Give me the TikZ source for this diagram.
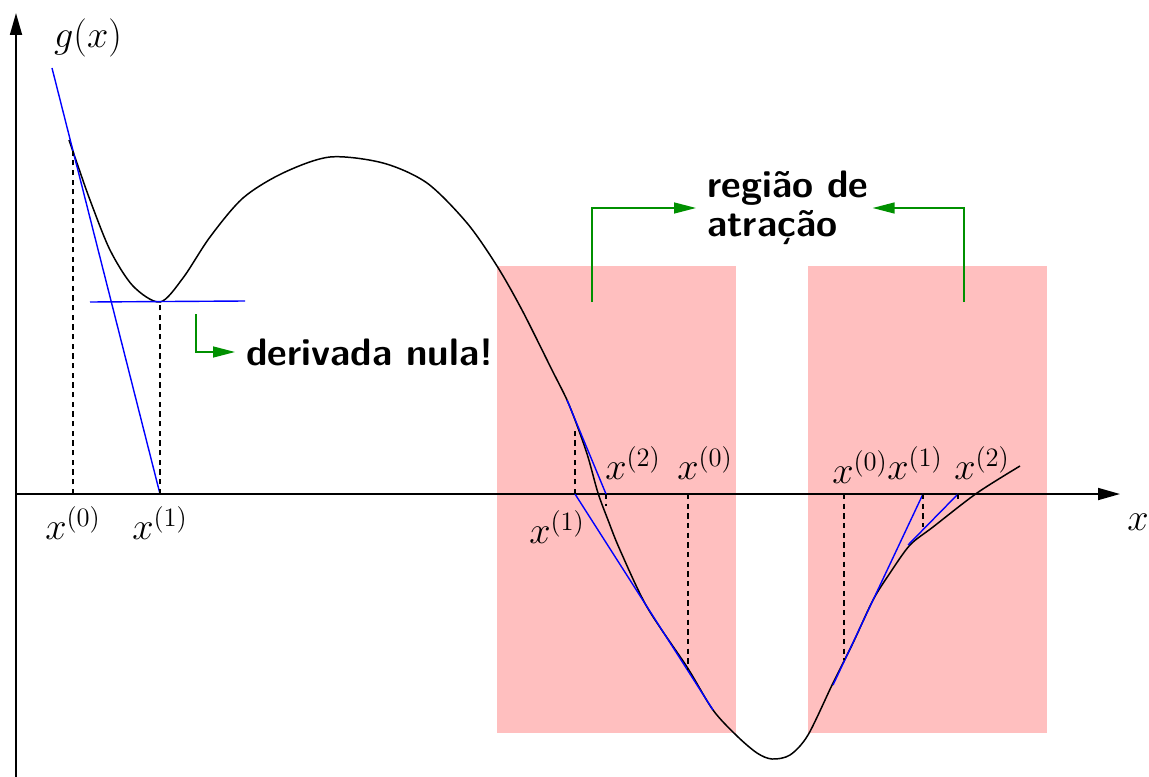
\documentclass[tikz,border=0pt]{standalone}
\usepackage{xcolor}
\usepackage{tikz}
\usetikzlibrary{arrows.meta,positioning}
\definecolor{basinPink}{HTML}{FFBFBF}
\definecolor{noteGreen}{HTML}{009000}
\tikzset{
  axisline/.style={-{Triangle[length=0.44cm,width=0.24cm]},line width=1pt},
  gcurve/.style={line width=0.85pt},
  tangent/.style={blue,line width=0.8pt},
  guide/.style={dash pattern=on 3pt off 2.5pt,line width=0.7pt},
  basin/.style={fill=basinPink},
  iterlabel/.style={font=\huge,inner sep=0pt,scale=1.05},
  note/.style={font=\huge\sffamily\bfseries,inner sep=6pt,scale=1.05},
  notearrow/.style={noteGreen,line width=0.8pt,-{Triangle[length=0.44cm,width=0.22cm]}}
}

\begin{document}
\begin{tikzpicture}[x=0.02cm,y=-0.02cm]
  \useasboundingbox (0,0) rectangle (1149,777);
  % regioes de atracao
  \fill[basin] (497,266) rectangle (736,733);
  \fill[basin] (808,266) rectangle (1047,733);
  % eixos
  \coordinate (ybot) at (16,777);
  \coordinate (ytop) at (16,13);
  \coordinate (xleft) at (16,494);
  \coordinate (xright) at (1120,494);
  \draw[axisline] (ybot) -- (ytop);
  \draw[axisline] (xleft) -- (xright);
  \node[iterlabel] (glabel) at (88,38) {$g(x)$};
  \node[iterlabel] (xlabel) at (1138,522) {$x$};
  % g(x)
  \draw[gcurve] plot[smooth] coordinates {(69,140) (78,166) (90,200) (110,250)
    (133,286) (160,302) (183,278) (210,237) (243,198) (283,173) (330,157)
    (383,163) (427,183) (467,223) (497,266) (522,310) (552,370) (567,400)
    (578,428) (588,457) (598,493) (608,520) (620,550) (647,607) (687,667)
    (713,710) (737,736) (757,753) (772,759) (790,755) (808,735) (833,683)
    (853,643) (873,600) (890,573) (910,545) (933,527) (977,493) (1020,466)};
  % iteracoes: derivada nula
  \coordinate (a0) at (73,494);
  \coordinate (a0g) at (73,148);
  \coordinate (a1) at (160,494);
  \coordinate (a1g) at (160,302);
  \draw[tangent] (52,68) -- (a1);
  \draw[tangent] (90,302) -- (245,301);
  \draw[guide] (a0) -- (a0g);
  \draw[guide] (a1) -- (a1g);
  \node[iterlabel] (la0) at (73,523) {$x^{(0)}$};
  \node[iterlabel] (la1) at (160,523) {$x^{(1)}$};
  % iteracoes: primeira regiao
  \coordinate (b0) at (688,494);
  \coordinate (b0g) at (688,670);
  \coordinate (b1) at (575,494);
  \coordinate (b1g) at (575,428);
  \coordinate (b2) at (606,494);
  \coordinate (b2g) at (606,506);
  \draw[tangent] (713,710) -- (b1);
  \draw[tangent] (567,400) -- (b2);
  \draw[guide] (b0) -- (b0g);
  \draw[guide] (b1) -- (b1g);
  \draw[guide] (b2) -- (b2g);
  \node[iterlabel] (lb0) at (705,463) {$x^{(0)}$};
  \node[iterlabel] (lb1) at (557,527) {$x^{(1)}$};
  \node[iterlabel] (lb2) at (633,463) {$x^{(2)}$};
  % iteracoes: segunda regiao
  \coordinate (c0) at (844,494);
  \coordinate (c0g) at (844,660);
  \coordinate (c1) at (923,494);
  \coordinate (c1g) at (923,527);
  \coordinate (c2) at (958,494);
  \coordinate (c2g) at (958,500);
  \draw[tangent] (833,685) -- (c1);
  \draw[tangent] (908,545) -- (c2);
  \draw[guide] (c0) -- (c0g);
  \draw[guide] (c1) -- (c1g);
  \draw[guide] (c2) -- (c2g);
  \node[iterlabel] (lc0) at (860,467) {$x^{(0)}$};
  \node[iterlabel] (lc1) at (915,463) {$x^{(1)}$};
  \node[iterlabel] (lc2) at (982,463) {$x^{(2)}$};
  % notas
  \node[note,anchor=west] (nula) at (235,352) {derivada nula!};
  \node[note,anchor=west,align=left] (regiao) at (696,208) {região de\\[-4pt]atração};
  \coordinate (nulastart) at (196,314);
  \coordinate (lstart) at (592,302);
  \coordinate (rstart) at (964,302);
  \draw[notearrow] (nulastart) |- (nula.west);
  \draw[notearrow] (lstart) |- (regiao.west);
  \draw[notearrow] (rstart) |- ([xshift=-4pt]regiao.east);
\end{tikzpicture}
\end{document}
